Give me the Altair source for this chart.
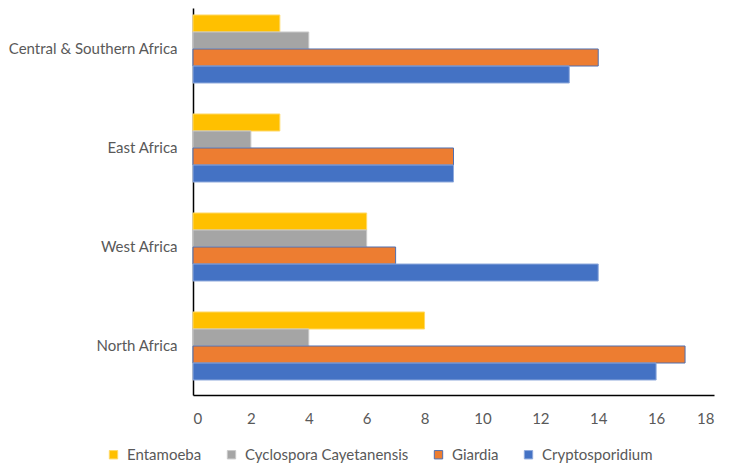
import altair as alt
import pandas as pd

regions = ["Central & Southern Africa", "East Africa", "West Africa", "North Africa"]
series = ["Entamoeba", "Cyclospora Cayetanensis", "Giardia", "Cryptosporidium"]
entamoeba = [3, 3, 6, 8]
cyclospora = [4, 2, 6, 4]
giardia = [14, 9, 7, 17]
cryptosporidium = [13, 9, 14, 16]
x_ticks = [0, 2, 4, 6, 8, 10, 12, 14, 16, 18]

fills = ["#FFC000", "#A5A5A5", "#ED7D31", "#4472C4"]
strokes = ["#FFD966", "#C9C9C9", "#4F6FB0", "#8FAADC"]

rows = []
for name, vals in zip(series, [entamoeba, cyclospora, giardia, cryptosporidium]):
    for r, v in zip(regions, vals):
        rows.append({"region": r, "series": name, "value": v})
df = pd.DataFrame(rows)

FONT = "Lato"
chart = alt.Chart(df).mark_bar(strokeWidth=1).encode(
    x=alt.X("value:Q",
            scale=alt.Scale(domain=[0, 18], nice=False),
            axis=alt.Axis(values=x_ticks, title=None, grid=False, ticks=False,
                          domainColor="#000000", domainWidth=1.5,
                          labelFont=FONT, labelFontSize=15, labelColor="#595959",
                          labelPadding=16)),
    y=alt.Y("region:N", sort=regions,
            scale=alt.Scale(paddingInner=0.313, paddingOuter=0.111, align=0.318),
            axis=alt.Axis(title=None, ticks=False, domainColor="#000000", domainWidth=1.5,
                          labelFont=FONT, labelFontSize=15, labelColor="#595959",
                          labelPadding=16, labelLimit=300)),
    yOffset=alt.YOffset("series:N", sort=series,
                        scale=alt.Scale(paddingInner=0, paddingOuter=0)),
    fill=alt.Fill("series:N", sort=series,
                  scale=alt.Scale(domain=series, range=fills),
                  legend=alt.Legend(title=None, orient="none", direction="horizontal",
                                    legendX=-87, legendY=439, symbolType="square",
                                    symbolSize=70, symbolStrokeWidth=1,
                                    labelFont=FONT, labelFontSize=15, labelColor="#595959",
                                    labelLimit=300,
                                    columnPadding=22, labelOffset=6, padding=0)),
    stroke=alt.Stroke("series:N", sort=series,
                      scale=alt.Scale(domain=series, range=strokes)),
).properties(
    width=521, height=387,
    autosize=alt.AutoSizeParams(type="none"),
    padding={"left": 185, "top": 0, "right": 31, "bottom": 69},
).configure_view(stroke=None)

chart.save("out.html", embed_options={"renderer": "svg", "actions": False})
